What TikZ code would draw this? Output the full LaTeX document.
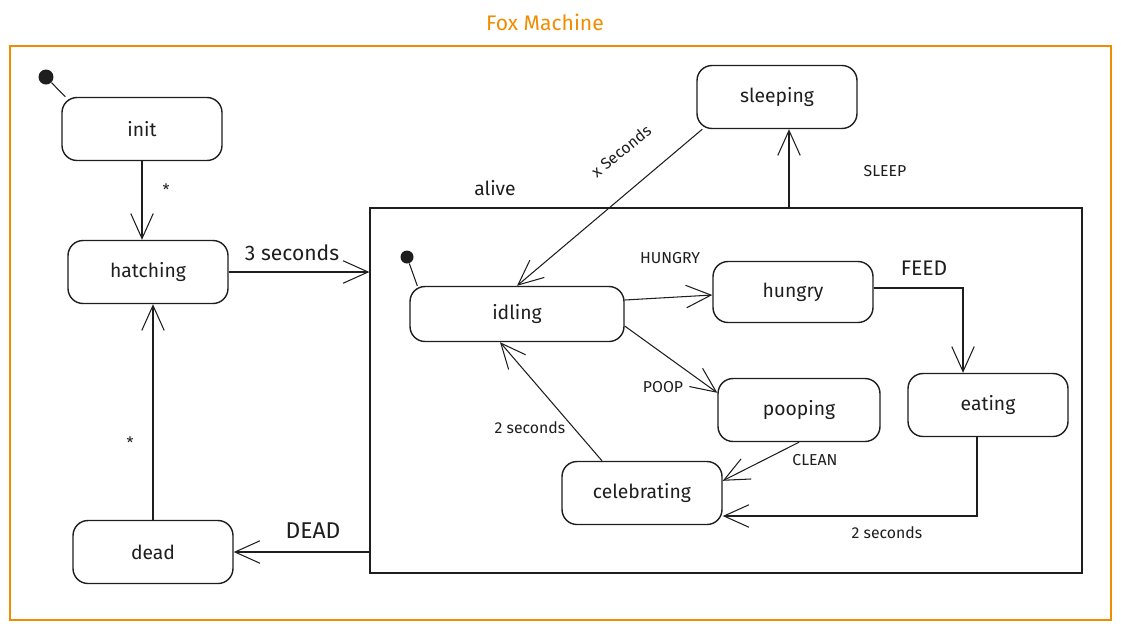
\documentclass[tikz,border=0pt]{standalone}
\usepackage{fontspec}
\setmainfont{Fira Sans}
\usetikzlibrary{arrows.meta}
\definecolor{foxorange}{HTML}{F08C00}
\definecolor{ink}{HTML}{1E1E1E}

\begin{document}
\begin{tikzpicture}[x=0.02cm, y=-0.02cm, ink,
    state/.style={draw, rounded corners=0.3cm, line width=0.8pt, minimum width=3.2cm, minimum height=1.26cm, font=\fontsize{11}{13}\selectfont},
    trans/.style={line width=0.6pt, -{Straight Barb[length=5mm, width=4.5mm]}},
    lbl/.style={font=\fontsize{9}{11}\selectfont},
    initdot/.style={circle, fill, inner sep=0pt, minimum size=0.3cm}]

      \useasboundingbox (0,0) rectangle (1121,630);

      \node[text=foxorange, font=\fontsize{12}{14}\selectfont] (title) at (545,22) {Fox Machine};
      \draw[foxorange, line width=1pt] (10,46) rectangle (1111,620);

      \node[draw, line width=0.8pt, minimum width=14.24cm, minimum height=7.3cm] (alive) at (726,390.5) {};
      \node[font=\fontsize{11}{13}\selectfont] (alivelbl) at (495,188) {alive};

      \node[state] (init) at (142,129) {init};
      \node[state] (hatching) at (148,272) {hatching};
      \node[state] (dead) at (153,552) {dead};
      \node[state] (sleeping) at (777,97) {sleeping};
      \node[state, minimum width=4.28cm, minimum height=1.1cm] (idling) at (517,314) {idling};
      \node[state, minimum height=1.22cm] (hungry) at (793,292) {hungry};
      \node[state, minimum width=3.24cm] (pooping) at (799,410) {pooping};
      \node[state] (eating) at (988,405) {eating};
      \node[state] (celebrating) at (642,493) {celebrating};

      \node[initdot] (start) at (46,77) {};
      \draw[line width=0.6pt] (start) -- ([xshift=0.08cm]init.north west);
      \node[initdot, minimum size=0.26cm] (alivestart) at (407,257) {};
      \draw[line width=0.6pt] (alivestart) -- ([xshift=0.16cm]idling.north west);

      \draw[trans] (init.south) -- (init.south |- hatching.north);
      \node[lbl] (star1) at (166,190) {*};

      \draw[trans] (hatching.east) -- (hatching.east -| alive.west);
      \node[font=\fontsize{12}{14}\selectfont] (threesec) at (292,253) {3 seconds};

      \draw[trans] (dead.north) -- (dead.north |- hatching.south);
      \node[lbl] (star2) at (130,443) {*};

      \draw[trans] (dead.east -| alive.west) -- (dead.east);
      \node[font=\fontsize{13}{15}\selectfont] (deadlbl) at (313,531) {DEAD};

      \draw[trans] ([xshift=0.24cm]sleeping.south |- alive.north) -- ([xshift=0.24cm]sleeping.south);
      \node[lbl] (sleeplbl) at (885,171) {SLEEP};

      \draw[trans] ([xshift=0.12cm]sleeping.south west) -- (idling.north);
      \node[lbl, rotate=39] (xsec) at (621,151) {x Seconds};

      \draw[trans] ([yshift=0.28cm]idling.east) -- ([yshift=-0.06cm]hungry.west);
      \node[lbl] (hungrylbl) at (670,258) {HUNGRY};

      \draw[trans] ([yshift=0.08cm]hungry.east) -| ([xshift=-0.5cm]eating.north);
      \node[font=\fontsize{12}{14}\selectfont] (feedlbl) at (924,268) {FEED};

      \draw[trans] ([yshift=-0.24cm]idling.east) -- ([yshift=-0.3cm]pooping.north west);
      \node[lbl] (pooplbl) at (663,387) {POOP};

      \draw[trans] (pooping.south) -- ([yshift=-0.4cm]celebrating.north east);
      \node[lbl] (cleanlbl) at (815,460) {CLEAN};

      \draw[trans] ([xshift=-0.22cm]eating.south) |- ([yshift=-0.46cm]celebrating.east);
      \node[lbl] (twosecA) at (887,533) {2 seconds};

      \draw[trans] ([xshift=-0.8cm]celebrating.north) -- ([xshift=-0.34cm]idling.south);
      \node[lbl] (twosecB) at (530,428) {2 seconds};

\end{tikzpicture}
\end{document}
